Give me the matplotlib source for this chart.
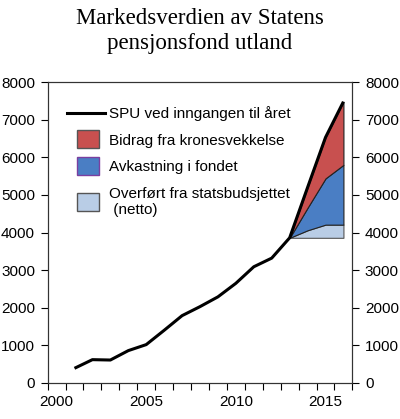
import matplotlib
matplotlib.use("Agg")
import matplotlib.pyplot as plt
from matplotlib.patches import Rectangle
from matplotlib.legend_handler import HandlerPatch
from matplotlib.lines import Line2D
import numpy as np

# Data (billion NOK)
years = [2001, 2002, 2003, 2004, 2005, 2006, 2007, 2008, 2009, 2010,
         2011, 2012, 2013, 2014, 2015, 2016]
spu = [390, 620, 610, 860, 1020, 1400, 1790, 2030, 2290, 2650,
       3090, 3320, 3860, 5200, 6530, 7480]
proj_years = [2013, 2014, 2015, 2016]
base = [3860, 3860, 3860, 3860]
transfers = [0, 200, 350, 350]
returns = [0, 600, 1230, 1590]
krone = [0, 540, 1090, 1680]
xlabels = ["2000", "2005", "2010", "2015"]
xlabel_pos = [2000, 2005, 2010, 2015]
yticks = [0, 1000, 2000, 3000, 4000, 5000, 6000, 7000, 8000]

title = "Markedsverdien av Statens\npensjonsfond utland"
labels = ["SPU ved inngangen til året", "Bidrag fra kronesvekkelse",
          "Avkastning i fondet", "Overført fra statsbudsjettet\n (netto)"]

c_red = "#C8504F"
c_blue = "#4A7EC4"
c_light = "#B9CDE6"

plt.rcParams['font.family'] = ['Liberation Sans', 'DejaVu Sans']

fig = plt.figure(figsize=(4.0, 4.19), dpi=100)
ax = fig.add_axes([0.119, 0.086, 0.762, 0.718])

b = np.array(base)
l1 = b + np.array(transfers)
l2 = l1 + np.array(returns)
l3 = l2 + np.array(krone)

ax.fill_between(proj_years, b, l1, facecolor=c_light, edgecolor="#555555", linewidth=0.8, zorder=2)
ax.fill_between(proj_years, l1, l2, facecolor=c_blue, edgecolor="#222222", linewidth=0.8, zorder=2)
ax.fill_between(proj_years, l2, l3, facecolor=c_red, edgecolor="#222222", linewidth=0.8, zorder=2)
ax.plot(years, spu, color="black", linewidth=2.2, zorder=3, solid_capstyle="butt")

ax.set_xlim(1999.5, 2016.5)
ax.set_ylim(0, 8000)
ax.set_xticks(np.arange(1999.5, 2017, 1.0))
ax.set_xticklabels([])
ax.set_xticks(xlabel_pos, minor=True)
ax.set_xticklabels(xlabels, minor=True, fontsize=11)
ax.tick_params(axis='x', which='major', direction='out', length=5, width=0.8)
ax.tick_params(axis='x', which='minor', length=0, pad=9)
ax.set_yticks(yticks)
ax.set_yticklabels([str(v) for v in yticks], fontsize=11)
ax.tick_params(axis='y', direction='out', length=5, width=0.8, pad=4)

ax2 = ax.twinx()
ax2.set_ylim(0, 8000)
ax2.set_yticks(yticks)
ax2.set_yticklabels([str(v) for v in yticks], fontsize=11)
ax2.tick_params(axis='y', direction='out', length=5, width=0.8, pad=4)

for a in (ax, ax2):
    for s in a.spines.values():
        s.set_linewidth(0.8)
        s.set_color("#333333")

fig.text(0.5, 0.982, title, ha='center', va='top', fontsize=16.5,
         family=['Liberation Serif', 'DejaVu Serif'], linespacing=1.26)

class NarrowPatch(HandlerPatch):
    def create_artists(self, legend, orig_handle, xdescent, ydescent, width, height, fontsize, trans):
        w = 15.8
        h = 13.0
        off = 4.3
        p = Rectangle((width - w - off - xdescent, -ydescent + height / 2 - h / 2), w, h,
                      facecolor=orig_handle.get_facecolor(), edgecolor=orig_handle.get_edgecolor(),
                      linewidth=1.0, transform=trans)
        return [p]

handles = [Line2D([], [], color="black", linewidth=2.2),
           Rectangle((0, 0), 1, 1, facecolor=c_red, edgecolor="#555555"),
           Rectangle((0, 0), 1, 1, facecolor=c_blue, edgecolor="#7A3FA0"),
           Rectangle((0, 0), 1, 1, facecolor=c_light, edgecolor="#555555")]
leg = ax.legend(handles, labels, loc='upper left', bbox_to_anchor=(0.045, 0.94),
                frameon=False, fontsize=11, handlelength=2.45, handletextpad=0.25,
                labelspacing=0.82, borderaxespad=0,
                handler_map={Rectangle: NarrowPatch()})

fig.savefig("out.png", dpi=100)
